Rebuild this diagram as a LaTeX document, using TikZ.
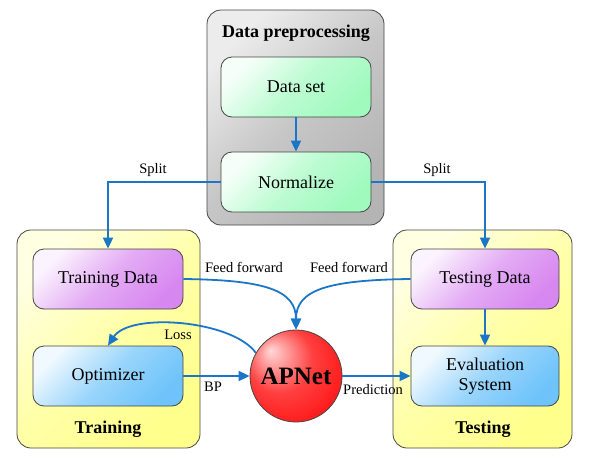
\documentclass[tikz,border=0pt]{standalone}
\usepackage{fontspec}
\setmainfont{Liberation Serif}
\usetikzlibrary{arrows.meta}
\definecolor{arrowblue}{RGB}{28,118,200}
\definecolor{edgegray}{RGB}{70,70,70}
\definecolor{greenfill}{RGB}{160,250,190}
\definecolor{purplefill}{RGB}{215,135,240}
\definecolor{bluefill}{RGB}{110,195,250}
\definecolor{yellowfill}{RGB}{255,255,140}
\definecolor{grayfill}{RGB}{180,180,180}
\pgfdeclareradialshading{apball}{\pgfpoint{-14bp}{14bp}}{color(0bp)=(red!15!white); color(18bp)=(red!75!white); color(42bp)=(red); color(50bp)=(red!90!black)}
\begin{document}
\begin{tikzpicture}[x=1pt,y=-1pt,
  outerbox/.style={draw=edgegray, line width=0.8pt, rounded corners=14pt, minimum width=#1},
  innerbox/.style={draw=edgegray, line width=0.8pt, rounded corners=11pt, minimum width=150pt, minimum height=60pt, align=center, font=\fontsize{18}{20}\selectfont},
  greenbox/.style={innerbox, top color=greenfill!10!white, bottom color=greenfill, middle color=greenfill!70!white, shading angle=45},
  purplebox/.style={innerbox, top color=purplefill!10!white, bottom color=purplefill, middle color=purplefill!70!white, shading angle=45},
  bluebox/.style={innerbox, top color=bluefill!10!white, bottom color=bluefill, middle color=bluefill!70!white, shading angle=45},
  yellowbox/.style={outerbox=#1, top color=yellowfill!25!white, bottom color=yellowfill, middle color=yellowfill!75!white, shading angle=45, minimum height=218pt},
  graybox/.style={outerbox=177pt, top color=grayfill!25!white, bottom color=grayfill, middle color=grayfill!75!white, shading angle=45, minimum height=215pt},
  titletext/.style={font=\bfseries\fontsize{18}{20}\selectfont},
  lbl/.style={font=\fontsize{14.5}{16}\selectfont, inner sep=1pt},
  link/.style={draw=arrowblue, line width=1.8pt, -{Triangle[length=11pt,width=10pt]}}
]
\useasboundingbox (0,0) rectangle (597,458);
% containers
\node[graybox] (pre) at (295.5,117.5) {};
\node[yellowbox=183pt] (trainbox) at (108.5,339) {};
\node[yellowbox=179pt] (testbox) at (482.5,339) {};
\node[titletext] (pretitle) at (296,33) {Data preprocessing};
\node[titletext] (traintitle) at (108,429) {Training};
\node[titletext] (testtitle) at (483,429) {Testing};
% inner boxes
\node[greenbox] (dataset) at (296,87) {Data set};
\node[greenbox] (norm) at (296,182) {Normalize};
\node[purplebox] (traindata) at (108,279) {Training Data};
\node[bluebox] (optim) at (108,376) {Optimizer};
\node[purplebox, minimum width=148pt] (testdata) at (485,279) {Testing Data};
\node[bluebox, minimum width=148pt] (eval) at (485,376) {Evaluation\\System};
\node[draw=edgegray, line width=0.8pt, circle, minimum size=92pt, shading=apball, font=\bfseries\fontsize{25}{27}\selectfont, inner sep=0pt] (apnet) at (296,376) {APNet};
% connectors
\draw[link] (dataset) -- (norm);
\draw[link] (norm.west) -| (traindata.north);
\draw[link] (norm.east) -| (testdata.north);
\draw[link] (testdata) -- (eval);
\draw[link] (traindata.east) .. controls (265,280) and (296,290) .. (apnet.north);
\draw[link] (testdata.west) .. controls (327,280) and (296,290) .. (apnet.north);
\draw[link] (apnet.150) .. controls (232,320) and (130,312) .. (optim.north);
\draw[link] (optim.east) -- (apnet.west);
\draw[link] (apnet.east) -- (eval.west);
% labels
\node[lbl] (splitl) at (153,170) {Split};
\node[lbl] (splitr) at (437,170) {Split};
\node[lbl] (ffl) at (244,267) {Feed forward};
\node[lbl] (ffr) at (349,267) {Feed forward};
\node[lbl] (loss) at (178,335) {Loss};
\node[lbl] (bp) at (213,387) {BP};
\node[lbl] (pred) at (373,390) {Prediction};
\end{tikzpicture}
\end{document}
